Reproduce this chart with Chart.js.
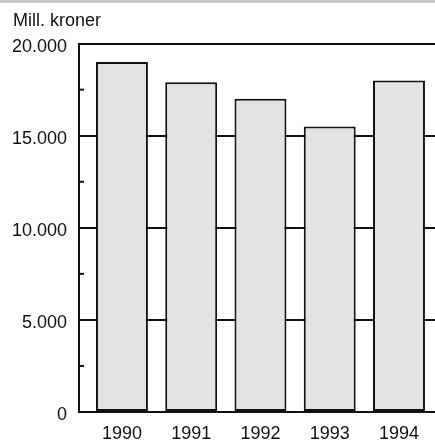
<!DOCTYPE html>
<html>
<head>
<meta charset="utf-8">
<script src="https://cdn.jsdelivr.net/npm/chart.js@4"></script>
<style>
  html, body { margin: 0; padding: 0; background: #fff; }
  #strip { position: absolute; left: 0; top: 0; width: 435px; height: 3px; background: #c8c8c8; }
  #wrap { width: 435px; height: 447px; }
</style>
</head>
<body>
<div id="strip"></div>
<div id="wrap"><canvas id="chart"></canvas></div>
<script>
// data
const years = ['1990', '1991', '1992', '1993', '1994'];
const values = [19000, 17900, 17000, 15500, 18000];
const yMajor = [0, 5000, 10000, 15000, 20000];
const yMinor = [2500, 7500, 12500, 17500];

const FONT = '"Liberation Sans", Arial, sans-serif';

// short inward ticks on the y axis at the minor values
const minorTicks = {
    id: 'minorTicks',
    afterDatasetsDraw(chart) {
        const y = chart.scales.y;
        const left = chart.chartArea.left;
        const ctx = chart.ctx;
        ctx.save();
        ctx.strokeStyle = '#111';
        ctx.lineWidth = 2;
        yMinor.forEach(v => {
            const py = y.getPixelForValue(v);
            ctx.beginPath();
            ctx.moveTo(left, py);
            ctx.lineTo(left + 5, py);
            ctx.stroke();
        });
        ctx.restore();
    }
};

function fmt(v) {
    return String(v).replace(/\B(?=(\d{3})+(?!\d))/g, '.');
}

new Chart(document.getElementById('chart'), {
    type: 'bar',
    data: {
        datasets: [{
            data: years.map((y, i) => ({ x: i, y: values[i] })),
            backgroundColor: '#e3e3e3',
            borderColor: '#111',
            borderWidth: 2,
            borderSkipped: false,
            barPercentage: 0.75,
            categoryPercentage: 1
        }]
    },
    options: {
        responsive: true,
        maintainAspectRatio: false,
        animation: false,
        layout: { padding: { left: 13, right: 0, top: 0, bottom: 0 } },
        plugins: {
            legend: { display: false },
            tooltip: { enabled: false },
            title: {
                display: true,
                text: 'Mill. kroner',
                align: 'start',
                color: '#111',
                font: { family: FONT, size: 18, weight: 'normal' },
                padding: { top: 10, bottom: 12 }
            }
        },
        scales: {
            x: {
                type: 'linear',
                min: -0.62,
                max: 4.52,
                offset: false,
                afterBuildTicks: s => { s.ticks = years.map((_, i) => ({ value: i })); },
                afterFit: s => { s.height = 35; },
                grid: { display: false, drawTicks: false },
                border: { display: true, color: '#111', width: 2 },
                ticks: {
                    color: '#111',
                    padding: 11,
                    font: { family: FONT, size: 18 },
                    callback: v => years[v]
                }
            },
            y: {
                min: 0,
                max: 20000,
                afterBuildTicks: s => { s.ticks = yMajor.map(v => ({ value: v })); },
                afterFit: s => { s.width = 66; },
                grid: { color: '#111', lineWidth: 2, drawTicks: false },
                border: { display: true, color: '#111', width: 2 },
                ticks: {
                    color: '#111',
                    padding: 12,
                    labelOffset: 3,
                    font: { family: FONT, size: 18 },
                    callback: v => fmt(v)
                }
            }
        }
    },
    plugins: [minorTicks]
});
</script>
</body>
</html>
